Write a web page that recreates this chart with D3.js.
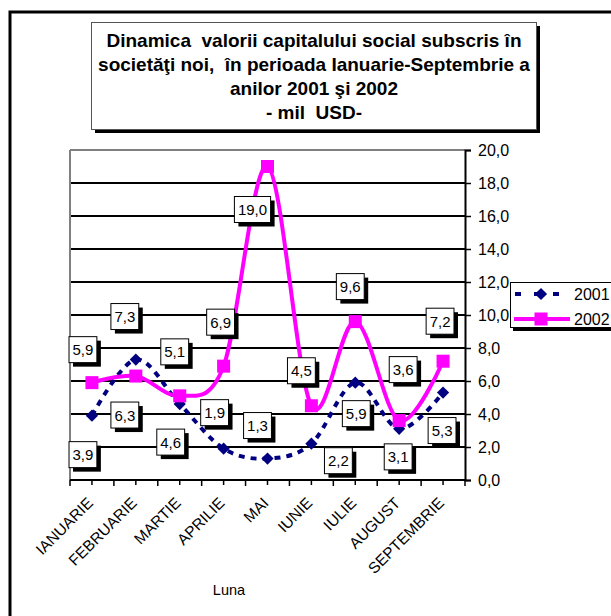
<!DOCTYPE html>
<html><head><meta charset="utf-8">
<script src="https://cdn.jsdelivr.net/npm/d3@7"></script>
<style>
html,body{margin:0;padding:0;background:#fff;}
svg{display:block;font-family:Arial,"Liberation Sans",sans-serif;}
svg text{white-space:pre;}
</style></head>
<body>
<svg id="chart" width="611" height="616"></svg>
<script>
// ---- data ----
const months = ["IANUARIE","FEBRUARIE","MARTIE","APRILIE","MAI","IUNIE","IULIE","AUGUST","SEPTEMBRIE"];
const values2001 = [3.9, 7.3, 4.6, 1.9, 1.3, 2.2, 5.9, 3.1, 5.3];
const values2002 = [5.9, 6.3, 5.1, 6.9, 19.0, 4.5, 9.6, 3.6, 7.2];
const seriesNames = ["2001", "2002"];
const yTicks = [0,2,4,6,8,10,12,14,16,18,20];
const titleLines = ["Dinamica  valorii capitalului social subscris în","societăţi noi,  în perioada Ianuarie-Septembrie a","anilor 2001 şi 2002","- mil  USD-"];
const xTitle = "Luna";
// label placement offsets (layout, px from the point)
const labelOff2001 = [[-9,39],[-11,-43],[-9,38],[-9,-36],[-10,-33],[27,17],[1,31],[-1,28],[-1,38]];
const labelOff2002 = [[-9,-33],[-11,39],[-5,-44],[-3,-44],[-15,43],[-10,-35],[-5,-35],[4,-51],[-3,-40]];

const svg = d3.select("#chart");
const L = 70, R = 465, T = 150, B = 480;
const x = d3.scaleBand().domain(months).range([L, R]);
const y = d3.scaleLinear().domain([0, 20]).range([B, T]);
const cx = d => x(d) + x.bandwidth()/2;
const fmt = v => v.toFixed(1).replace(".", ",");

// outer frame
svg.append("rect").attr("x",10).attr("y",12).attr("width",700).attr("height",700)
  .attr("fill","none").attr("stroke","#000").attr("stroke-width",3);

// title box
svg.append("rect").attr("x",95).attr("y",26).attr("width",445).attr("height",107).attr("fill","#000");
svg.append("rect").attr("x",91.5).attr("y",22.5).attr("width",445).attr("height",107)
  .attr("fill","#fff").attr("stroke","#555").attr("stroke-width",1);
const tBase = [47, 71, 95, 119];
titleLines.forEach((t,i)=>{
  svg.append("text").attr("x",314).attr("y",tBase[i]).attr("text-anchor","middle")
    .attr("font-weight","bold").attr("font-size",19).text(t);
});

// gridlines
svg.append("g").selectAll("line").data(yTicks.filter(v=>v>0 && v<20)).join("line")
  .attr("x1",L).attr("x2",R).attr("y1",d=>y(d)).attr("y2",d=>y(d))
  .attr("stroke","#000").attr("stroke-width",1.8);
// top and left borders (gray)
svg.append("line").attr("x1",L).attr("x2",R).attr("y1",y(20)).attr("y2",y(20)).attr("stroke","#808080").attr("stroke-width",2);
svg.append("line").attr("x1",L).attr("x2",L).attr("y1",T).attr("y2",B).attr("stroke","#808080").attr("stroke-width",2);

// right axis
const ya = svg.append("g").attr("transform",`translate(${R},0)`)
  .call(d3.axisRight(y).tickValues(yTicks).tickSize(6).tickPadding(7).tickFormat(fmt));
ya.select(".domain").attr("stroke","#000").attr("stroke-width",2);
ya.selectAll(".tick line").attr("stroke","#000").attr("stroke-width",1.5);
ya.selectAll(".tick text").attr("font-size",16).attr("fill","#000").attr("font-family","Arial, Liberation Sans, sans-serif");

// bottom axis
const xa = svg.append("g");
xa.append("line").attr("x1",L).attr("x2",R).attr("y1",B).attr("y2",B).attr("stroke","#000").attr("stroke-width",2);
const bounds = months.map(m=>x(m)).concat([R]);
xa.selectAll("line.tb").data(bounds).join("line").attr("class","tb")
  .attr("x1",d=>d).attr("x2",d=>d).attr("y1",B).attr("y2",B+6).attr("stroke","#000").attr("stroke-width",1.5);
xa.selectAll("line.tc").data(months).join("line").attr("class","tc")
  .attr("x1",d=>cx(d)).attr("x2",d=>cx(d)).attr("y1",B).attr("y2",B+5).attr("stroke","#000").attr("stroke-width",1.5);
xa.selectAll("text").data(months).join("text")
  .attr("transform",d=>`translate(${cx(d)+2},${B+24}) rotate(-45)`)
  .attr("text-anchor","end").attr("font-size",15.5).text(d=>d);

// x title
svg.append("text").attr("x",229).attr("y",595).attr("text-anchor","middle").attr("font-size",14.5).text(xTitle);

// lines
const line = d3.line().x((d,i)=>cx(months[i])).y(d=>y(d)).curve(d3.curveCardinal.tension(0));
svg.append("path").datum(values2001).attr("d",line).attr("fill","none")
  .attr("stroke","#000080").attr("stroke-width",4).attr("stroke-dasharray","6,6");
svg.append("g").selectAll("path").data(values2001).join("path")
  .attr("d",d3.symbol().type(d3.symbolDiamond2).size(95))
  .attr("transform",(d,i)=>`translate(${cx(months[i])},${y(d)})`).attr("fill","#000080");
svg.append("path").datum(values2002).attr("d",line).attr("fill","none")
  .attr("stroke","#ff00ff").attr("stroke-width",4);
svg.append("g").selectAll("rect").data(values2002).join("rect")
  .attr("x",(d,i)=>cx(months[i])-6.5).attr("y",d=>y(d)-6.5).attr("width",13).attr("height",13).attr("fill","#ff00ff");

// data labels
function labels(vals, offs){
  const g = svg.append("g");
  vals.forEach((v,i)=>{
    const px = cx(months[i]) + offs[i][0], py = y(v) + offs[i][1];
    const t = g.append("text").attr("font-size",15).attr("text-anchor","middle").attr("x",px).attr("y",py+5.5).text(fmt(v));
    const w = t.node().getComputedTextLength() + 7, h = 26;
    g.insert("rect","text").attr("x",px-w/2+4).attr("y",py-h/2+4).attr("width",w).attr("height",h).attr("fill","#000");
    g.insert("rect","text").attr("x",px-w/2).attr("y",py-h/2).attr("width",w).attr("height",h).attr("fill","#fff").attr("stroke","#000").attr("stroke-width",1);
  });
}
labels(values2001, labelOff2001);
labels(values2002, labelOff2002);

// legend
const lg = svg.append("g");
lg.append("rect").attr("x",513).attr("y",285).attr("width",120).attr("height",46).attr("fill","#000");
lg.append("rect").attr("x",510.5).attr("y",282.5).attr("width",120).attr("height",45).attr("fill","#fff").attr("stroke","#000").attr("stroke-width",1);
const ly = [294, 319];
lg.append("line").attr("x1",514).attr("x2",568).attr("y1",ly[0]).attr("y2",ly[0])
  .attr("stroke","#000080").attr("stroke-width",4).attr("stroke-dasharray","6,13").attr("stroke-dashoffset",-1);
lg.append("path").attr("d",d3.symbol().type(d3.symbolDiamond2).size(95))
  .attr("transform",`translate(541,${ly[0]})`).attr("fill","#000080");
lg.append("line").attr("x1",514).attr("x2",570).attr("y1",ly[1]).attr("y2",ly[1]).attr("stroke","#ff00ff").attr("stroke-width",4);
lg.append("rect").attr("x",534.5).attr("y",ly[1]-6.5).attr("width",13).attr("height",13).attr("fill","#ff00ff");
seriesNames.forEach((s,i)=>{
  lg.append("text").attr("x",574).attr("y",ly[i]+5.5).attr("font-size",16).text(s);
});
</script>
</body></html>
